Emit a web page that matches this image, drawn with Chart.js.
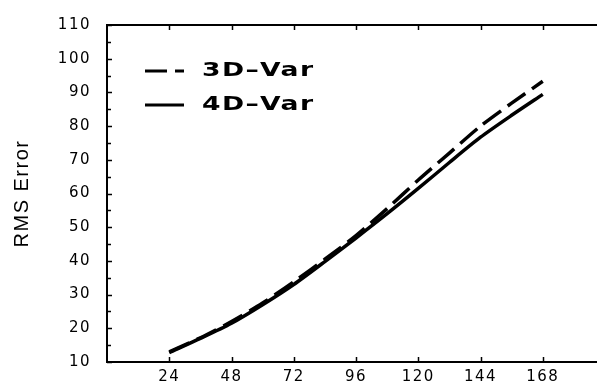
<!DOCTYPE html>
<html>
<head>
<meta charset="utf-8">
<script src="https://cdn.jsdelivr.net/npm/chart.js@4.4.1/dist/chart.umd.min.js"></script>
<style>
    html, body { margin: 0; padding: 0; background: #fff; overflow: hidden; }
    #wrap { position: relative; width: 620px; height: 387px; }
</style>
</head>
<body>
<div id="wrap"><canvas id="rmsChart"></canvas></div>
<script>
const forecastHours = [24, 36, 48, 60, 72, 84, 96, 108, 120, 132, 144, 156, 168];
const rms3dVar = [13.0, 17.2, 22.0, 27.5, 33.8, 40.5, 47.5, 55.5, 64.0, 72.0, 80.0, 86.8, 93.3];
const rms4dVar = [12.8, 17.0, 21.5, 27.0, 33.0, 39.8, 46.8, 54.0, 61.5, 69.2, 76.7, 83.2, 89.4];
const seriesLabels = ['3D\u2013Var', '4D\u2013Var'];
const xTickValues = [24, 48, 72, 96, 120, 144, 168];
const yTickValues = [10, 20, 30, 40, 50, 60, 70, 80, 90, 100, 110];
const yMinorValues = [15, 25, 35, 45, 55, 65, 75, 85, 95, 105];

const FONT = '"DejaVu Sans", Verdana, sans-serif';
const TITLE_FONT = '"Liberation Sans", Arial, sans-serif';
const dashPattern = [22, 8];

// frame on top + inward tick marks
const frameTicks = {
    id: 'frameTicks',
    beforeDraw(chart) {
        chart.ctx.letterSpacing = '1.5px';
    },
    afterDraw(chart) {
        const { ctx, chartArea: a, scales: { x, y } } = chart;
        ctx.save();
        ctx.strokeStyle = '#000';
        ctx.lineWidth = 2;
        ctx.beginPath();
        ctx.moveTo(a.left - 1, a.top);
        ctx.lineTo(a.right, a.top);
        ctx.stroke();

        ctx.lineWidth = 1.5;
        ctx.beginPath();
        xTickValues.forEach(v => {
            const px = Math.round(x.getPixelForValue(v)) + 0.5;
            ctx.moveTo(px, a.bottom); ctx.lineTo(px, a.bottom - 5);
            ctx.moveTo(px, a.top); ctx.lineTo(px, a.top + 5);
        });
        yTickValues.forEach(v => {
            const py = Math.round(y.getPixelForValue(v)) + 0.5;
            ctx.moveTo(a.left, py); ctx.lineTo(a.left + 5, py);
        });
        yMinorValues.forEach(v => {
            const py = Math.round(y.getPixelForValue(v)) + 0.5;
            ctx.moveTo(a.left, py); ctx.lineTo(a.left + 4, py);
        });
        ctx.stroke();
        ctx.restore();
    }
};

// legend in the upper left of the plot (wide bold text)
const insetLegend = {
    id: 'insetLegend',
    afterDraw(chart) {
        const { ctx, chartArea: a } = chart;
        ctx.save();
        chart.data.datasets.forEach((ds, i) => {
            const yy = a.top + 46 + i * 34;
            ctx.strokeStyle = '#000';
            ctx.lineWidth = 3;
            ctx.setLineDash(ds.borderDash || []);
            ctx.beginPath();
            ctx.moveTo(a.left + 38, yy);
            ctx.lineTo(a.left + 77, yy);
            ctx.stroke();
            ctx.setLineDash([]);

            ctx.save();
            ctx.translate(a.left + 95, yy);
            ctx.scale(1.4, 1);
            ctx.fillStyle = '#000';
            ctx.font = 'bold 19px ' + FONT;
            ctx.letterSpacing = '1px';
            ctx.textBaseline = 'middle';
            ctx.textAlign = 'left';
            ctx.fillText(ds.label, 0, 0);
            ctx.restore();
        });
        ctx.restore();
    }
};

new Chart(document.getElementById('rmsChart'), {
    type: 'line',
    data: {
        datasets: [
            {
                label: seriesLabels[0],
                data: forecastHours.map((h, i) => ({ x: h, y: rms3dVar[i] })),
                borderColor: '#000',
                borderWidth: 3.5,
                borderDash: dashPattern,
                pointRadius: 0,
                tension: 0.25,
                fill: false
            },
            {
                label: seriesLabels[1],
                data: forecastHours.map((h, i) => ({ x: h, y: rms4dVar[i] })),
                borderColor: '#000',
                borderWidth: 3.5,
                pointRadius: 0,
                tension: 0.25,
                fill: false
            }
        ]
    },
    options: {
        responsive: true,
        maintainAspectRatio: false,
        animation: false,
        layout: { padding: { top: 17, right: 15, left: 0, bottom: 0 } },
        plugins: { legend: { display: false }, tooltip: { enabled: false } },
        scales: {
            x: {
                type: 'linear',
                min: 0,
                max: 192,
                afterBuildTicks: (scale) => { scale.ticks = xTickValues.map(v => ({ value: v })); },
                afterFit: (scale) => { scale.height = 25; },
                grid: { display: false, drawTicks: false },
                border: { display: true, color: '#000', width: 2 },
                ticks: { color: '#000', padding: 6, maxRotation: 0, autoSkip: false, font: { family: FONT, size: 15 } }
            },
            y: {
                min: 10,
                max: 110,
                afterBuildTicks: (scale) => { scale.ticks = yTickValues.map(v => ({ value: v })); },
                afterFit: (scale) => { scale.width = 107; },
                grid: { display: false, drawTicks: false },
                border: { display: true, color: '#000', width: 2 },
                ticks: { color: '#000', padding: 16, font: { family: FONT, size: 15 } },
                title: {
                    display: true,
                    text: 'RMS Error',
                    color: '#000',
                    padding: { top: 10, bottom: 0 },
                    font: { family: TITLE_FONT, size: 20 }
                }
            }
        }
    },
    plugins: [frameTicks, insetLegend]
});
</script>
</body>
</html>
